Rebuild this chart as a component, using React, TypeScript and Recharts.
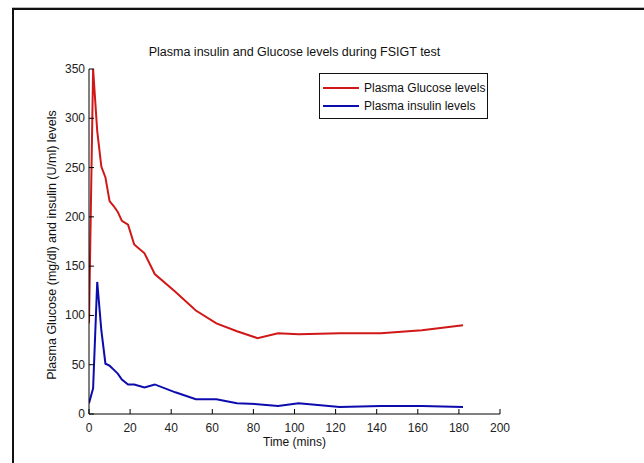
import React from 'react';
import { LineChart, Line, XAxis, YAxis, Legend } from 'recharts';

// FSIGT samples
const timeMins = [0, 2, 4, 6, 8, 10, 12, 14, 16, 19, 22, 27, 32, 42, 52, 62, 72, 82, 92, 102, 122, 142, 162, 182];
const glucoseLevels = [92, 350, 287, 251, 240, 216, 211, 205, 196, 192, 172, 163, 142, 124, 105, 92, 84, 77, 82, 81, 82, 82, 85, 90];
const insulinLevels = [11, 26, 134, 85, 51, 49, 45, 41, 35, 30, 30, 27, 30, 22, 15, 15, 11, 10, 8, 11, 7, 8, 8, 7];

const xTicks = [0, 20, 40, 60, 80, 100, 120, 140, 160, 180, 200];
const yTicks = [0, 50, 100, 150, 200, 250, 300, 350];

const FONT = "'Liberation Sans', Arial, Helvetica, sans-serif";
const RED = '#d01818';
const BLUE = '#0c0cae';

const chartData = timeMins.map((t, i) => ({
	t,
	glucose: glucoseLevels[i],
	insulin: insulinLevels[i],
}));

// MATLAB style ticks pointing into the plot
const XTick = (props: any) => {
	const { x, y, payload } = props;
	return (
		<g>
			<line x1={x} x2={x} y1={y} y2={y - 5} stroke='#000' />
			<text x={x} y={y + 18} textAnchor='middle' fontSize={12} fontFamily={FONT} fill='#222'>
				{payload.value}
			</text>
		</g>
	);
};

const YTick = (props: any) => {
	const { x, y, payload } = props;
	return (
		<g>
			<line x1={x} x2={x + 5} y1={y} y2={y} stroke='#000' />
			<text x={x - 4} y={y + 4} textAnchor='end' fontSize={12} fontFamily={FONT} fill='#222'>
				{payload.value}
			</text>
		</g>
	);
};

const renderLegend = (props: any) => (
	<div
		style={{
			width: 169,
			height: 46,
			boxSizing: 'border-box',
			border: '1px solid #111',
			background: '#fff',
			paddingTop: 5,
			fontFamily: FONT,
			fontSize: 12,
			color: '#111',
		}}
	>
		{props.payload.map((entry: any) => (
			<div key={entry.value} style={{ display: 'flex', alignItems: 'center', height: 18 }}>
				<span
					style={{
						display: 'inline-block',
						width: 36,
						height: 2,
						marginLeft: 3,
						marginRight: 5,
						background: entry.color,
					}}
				/>
				<span>{entry.value}</span>
			</div>
		))}
	</div>
);

export default function App() {
	return (
		<div style={{ position: 'absolute', left: 0, top: 0, width: 644, height: 463, background: '#fff' }}>
			{/* figure frame */}
			<div style={{ position: 'absolute', left: 12, top: 7, width: 632, height: 1, background: '#bbb' }} />
			<div style={{ position: 'absolute', left: 12, top: 8, width: 632, height: 2, background: '#111' }} />
			<div style={{ position: 'absolute', left: 12, top: 8, width: 2, height: 455, background: '#111' }} />

			<div
				style={{
					position: 'absolute',
					left: 89,
					width: 411,
					top: 45,
					textAlign: 'center',
					fontFamily: FONT,
					fontSize: 12.5,
					lineHeight: '14px',
					color: '#111',
				}}
			>
				Plasma insulin and Glucose levels during FSIGT test
			</div>

			<LineChart width={644} height={463} data={chartData} margin={{ top: 69, right: 144, bottom: 0, left: 0 }}>
				<XAxis
					dataKey='t'
					type='number'
					domain={[0, 200]}
					ticks={xTicks}
					height={49}
					tickSize={0}
					tickMargin={0}
					tickLine={false}
					tick={<XTick />}
					axisLine={{ stroke: '#000' }}
					allowDataOverflow
				/>
				<YAxis
					type='number'
					domain={[0, 350]}
					ticks={yTicks}
					width={89}
					tickSize={0}
					tickMargin={0}
					tickLine={false}
					tick={<YTick />}
					axisLine={{ stroke: '#000' }}
					allowDataOverflow
				/>
				<Legend
					layout='vertical'
					align='center'
					verticalAlign='middle'
					content={renderLegend}
					wrapperStyle={{ left: 319, top: 73, width: 169, height: 46 }}
				/>
				<Line
					type='linear'
					dataKey='glucose'
					name='Plasma Glucose levels'
					stroke={RED}
					strokeWidth={2}
					dot={false}
					isAnimationActive={false}
				/>
				<Line
					type='linear'
					dataKey='insulin'
					name='Plasma insulin levels'
					stroke={BLUE}
					strokeWidth={2}
					dot={false}
					isAnimationActive={false}
				/>
			</LineChart>

			<svg width={644} height={463} style={{ position: 'absolute', left: 0, top: 0, pointerEvents: 'none' }}>
				<text
					x={294.5}
					y={446}
					textAnchor='middle'
					fontSize={12}
					fontFamily={FONT}
					fill='#111'
				>
					Time (mins)
				</text>
				<text
					transform='translate(56, 245) rotate(-90)'
					textAnchor='middle'
					fontSize={12.5}
					fontFamily={FONT}
					fill='#111'
				>
					Plasma Glucose (mg/dl) and insulin (U/ml) levels
				</text>
			</svg>
		</div>
	);
}
